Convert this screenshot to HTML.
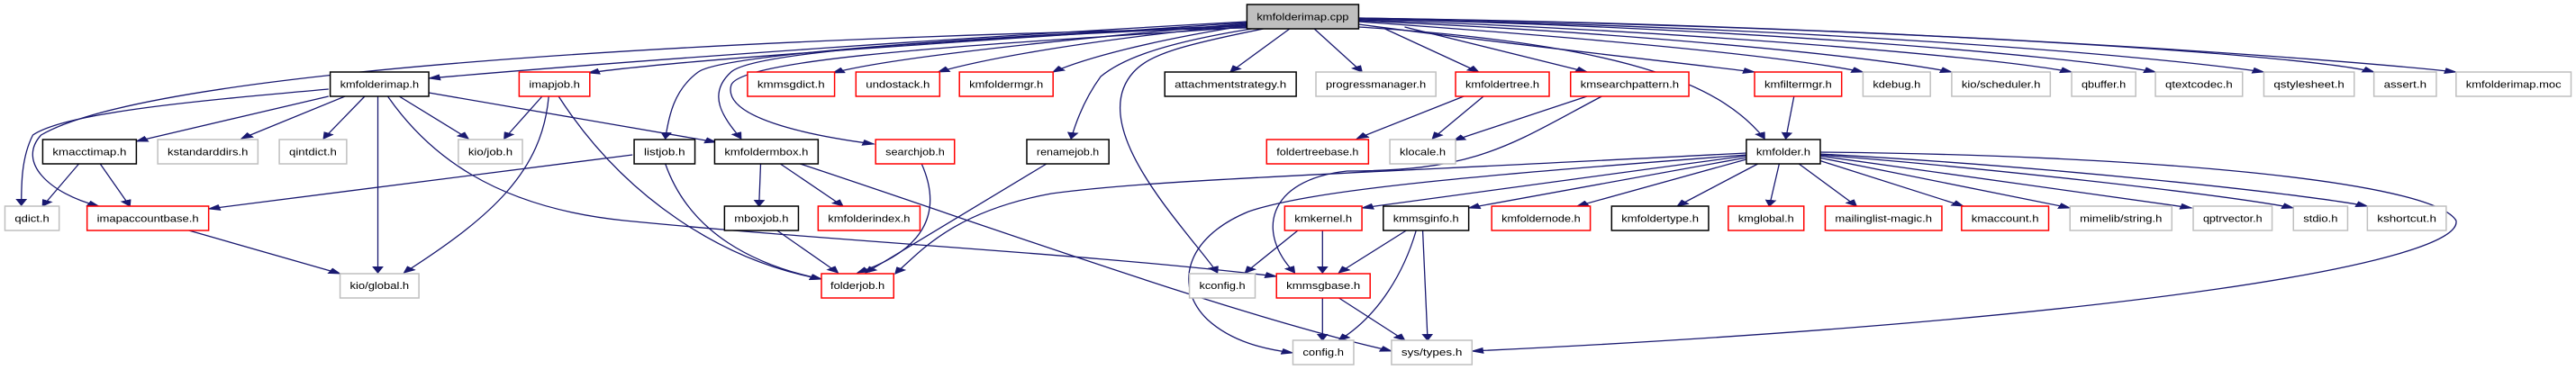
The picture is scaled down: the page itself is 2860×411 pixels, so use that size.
<!DOCTYPE html>
<html><head><meta charset="utf-8"><style>
html,body{margin:0;padding:0;background:#fff;}
svg{display:block;}
text{font-family:"Liberation Sans",sans-serif;font-size:11px;fill:#000;}
path,rect{vector-effect:non-scaling-stroke;}
</style></head><body>
<svg width="2860" height="411" viewBox="0 0 1568 411" preserveAspectRatio="none" xmlns="http://www.w3.org/2000/svg">
<defs>
<marker id="a" markerUnits="userSpaceOnUse" markerWidth="8" markerHeight="7" refX="7" refY="3.5" orient="auto">
<path d="M0,0 L8,3.5 L0,7 z" fill="#191970" stroke="none"/>
</marker>
</defs>
<g fill="none" stroke="#191970" stroke-width="1.3" marker-end="url(#a)">
<path d="M759,24 C600,40 400,65 261,87"/>
<path d="M759,25 C600,45 420,65 358,81"/>
<path d="M759,26 C640,45 540,65 507,81"/>
<path d="M759,27 C660,45 600,65 571,80"/>
<path d="M760,28 C700,45 660,65 641,80"/>
<path d="M785,32 L749,80"/>
<path d="M800,32 L829,80"/>
<path d="M843,32 L900,80"/>
<path d="M855,30 L966,80"/>
<path d="M827,27 C900,45 1000,65 1068,80"/>
<path d="M827,24 C950,40 1080,60 1134,80"/>
<path d="M827,23 C980,35 1130,60 1188,80"/>
<path d="M827,22 C1000,32 1200,60 1261,80"/>
<path d="M827,21 C1050,30 1250,60 1312,80"/>
<path d="M827,21 C1100,30 1300,60 1378,80"/>
<path d="M827,20 C1150,30 1400,60 1445,80"/>
<path d="M827,20 C1150,28 1420,65 1495,80"/>
<path d="M827,30 C1000,50 1050,100 1074,154"/>
<path d="M759,28 C600,40 440,60 425,80 C410,100 407,130 405,154"/>
<path d="M759,29 C600,42 460,55 445,80 C430,105 440,130 451,154"/>
<path d="M759,30 C650,45 450,60 445,95 C440,130 490,150 532,160"/>
<path d="M762,32 C700,50 680,70 670,85 C660,110 655,135 652,154"/>
<path d="M769,32 C720,50 700,60 690,80 C660,140 720,250 741,303"/>
<path d="M759,31 C500,40 100,70 25,150 C10,180 30,215 60,229"/>
<path d="M200,107 L83,157"/>
<path d="M210,107 L147,154"/>
<path d="M222,107 L197,154"/>
<path d="M230,107 L230,303"/>
<path d="M243,107 L285,154"/>
<path d="M261,103 L436,158"/>
<path d="M236,107 C260,170 300,230 380,245 C520,270 650,280 777,307"/>
<path d="M200,99 C120,112 40,125 20,150 C13,175 13,205 13,228"/>
<path d="M330,107 L307,154"/>
<path d="M334,107 C330,190 300,240 246,303"/>
<path d="M340,107 C380,220 440,290 500,310"/>
<path d="M48,182 L26,229"/>
<path d="M61,182 L79,229"/>
<path d="M385,172 L127,232"/>
<path d="M405,182 C420,260 460,295 500,310"/>
<path d="M463,182 L462,229"/>
<path d="M475,182 L513,229"/>
<path d="M487,182 C600,250 750,350 847,390"/>
<path d="M115,256 L207,304"/>
<path d="M473,256 L510,303"/>
<path d="M561,182 C575,240 560,280 522,303"/>
<path d="M637,182 L527,303"/>
<path d="M891,107 L826,154"/>
<path d="M903,107 L872,154"/>
<path d="M966,107 L885,156"/>
<path d="M975,107 C920,160 900,190 820,190 C770,200 765,260 788,303"/>
<path d="M1092,107 L1087,154"/>
<path d="M1063,170 C800,195 700,200 640,215 C580,235 560,280 545,304"/>
<path d="M1063,172 C900,195 800,210 760,235 C720,265 715,320 735,355 C750,380 770,388 787,392"/>
<path d="M1063,173 L829,231"/>
<path d="M1063,175 L894,231"/>
<path d="M1063,177 L960,229"/>
<path d="M1070,182 L1021,229"/>
<path d="M1083,182 L1077,229"/>
<path d="M1095,182 L1130,229"/>
<path d="M1107,178 L1195,229"/>
<path d="M1107,175 L1260,231"/>
<path d="M1107,173 L1334,231"/>
<path d="M1107,172 C1200,185 1350,215 1396,231"/>
<path d="M1107,171 C1250,185 1400,215 1441,229"/>
<path d="M1107,169 C1300,172 1480,200 1495,245 C1500,290 1300,355 896,390"/>
<path d="M790,256 L758,303"/>
<path d="M805,256 L805,303"/>
<path d="M856,256 L815,303"/>
<path d="M862,256 C855,300 840,350 815,378"/>
<path d="M866,256 L869,378"/>
<path d="M805,331 L805,378"/>
<path d="M815,331 L855,378"/>
</g>
<g stroke-width="1.5">
<rect x="759" y="5" width="68" height="27" fill="#bfbfbf" stroke="#000"/>
<rect x="201" y="80" width="60" height="27" fill="#fff" stroke="#000"/>
<rect x="316" y="80" width="43" height="27" fill="#fff" stroke="#f00"/>
<rect x="455" y="80" width="53" height="27" fill="#fff" stroke="#f00"/>
<rect x="521" y="80" width="51" height="27" fill="#fff" stroke="#f00"/>
<rect x="584" y="80" width="57" height="27" fill="#fff" stroke="#f00"/>
<rect x="709" y="80" width="80" height="27" fill="#fff" stroke="#000"/>
<rect x="801" y="80" width="73" height="27" fill="#fff" stroke="#bfbfbf"/>
<rect x="886" y="80" width="57" height="27" fill="#fff" stroke="#f00"/>
<rect x="956" y="80" width="72" height="27" fill="#fff" stroke="#f00"/>
<rect x="1068" y="80" width="53" height="27" fill="#fff" stroke="#f00"/>
<rect x="1134" y="80" width="41" height="27" fill="#fff" stroke="#bfbfbf"/>
<rect x="1188" y="80" width="60" height="27" fill="#fff" stroke="#bfbfbf"/>
<rect x="1261" y="80" width="39" height="27" fill="#fff" stroke="#bfbfbf"/>
<rect x="1312" y="80" width="53" height="27" fill="#fff" stroke="#bfbfbf"/>
<rect x="1378" y="80" width="55" height="27" fill="#fff" stroke="#bfbfbf"/>
<rect x="1445" y="80" width="38" height="27" fill="#fff" stroke="#bfbfbf"/>
<rect x="1495" y="80" width="70" height="27" fill="#fff" stroke="#bfbfbf"/>
<rect x="26" y="155" width="57" height="27" fill="#fff" stroke="#000"/>
<rect x="96" y="155" width="61" height="27" fill="#fff" stroke="#bfbfbf"/>
<rect x="170" y="155" width="41" height="27" fill="#fff" stroke="#bfbfbf"/>
<rect x="279" y="155" width="39" height="27" fill="#fff" stroke="#bfbfbf"/>
<rect x="386" y="155" width="37" height="27" fill="#fff" stroke="#000"/>
<rect x="435" y="155" width="63" height="27" fill="#fff" stroke="#000"/>
<rect x="533" y="155" width="48" height="27" fill="#fff" stroke="#f00"/>
<rect x="625" y="155" width="50" height="27" fill="#fff" stroke="#000"/>
<rect x="771" y="155" width="62" height="27" fill="#fff" stroke="#f00"/>
<rect x="846" y="155" width="40" height="27" fill="#fff" stroke="#bfbfbf"/>
<rect x="1063" y="155" width="45" height="27" fill="#fff" stroke="#000"/>
<rect x="3" y="229" width="33" height="27" fill="#fff" stroke="#bfbfbf"/>
<rect x="53" y="229" width="74" height="27" fill="#fff" stroke="#f00"/>
<rect x="441" y="229" width="45" height="27" fill="#fff" stroke="#000"/>
<rect x="498" y="229" width="62" height="27" fill="#fff" stroke="#f00"/>
<rect x="782" y="229" width="47" height="27" fill="#fff" stroke="#f00"/>
<rect x="842" y="229" width="52" height="27" fill="#fff" stroke="#000"/>
<rect x="908" y="229" width="60" height="27" fill="#fff" stroke="#f00"/>
<rect x="981" y="229" width="59" height="27" fill="#fff" stroke="#000"/>
<rect x="1052" y="229" width="46" height="27" fill="#fff" stroke="#f00"/>
<rect x="1111" y="229" width="71" height="27" fill="#fff" stroke="#f00"/>
<rect x="1194" y="229" width="53" height="27" fill="#fff" stroke="#f00"/>
<rect x="1260" y="229" width="62" height="27" fill="#fff" stroke="#bfbfbf"/>
<rect x="1335" y="229" width="48" height="27" fill="#fff" stroke="#bfbfbf"/>
<rect x="1396" y="229" width="33" height="27" fill="#fff" stroke="#bfbfbf"/>
<rect x="1441" y="229" width="48" height="27" fill="#fff" stroke="#bfbfbf"/>
<rect x="207" y="304" width="48" height="27" fill="#fff" stroke="#bfbfbf"/>
<rect x="500" y="304" width="44" height="27" fill="#fff" stroke="#f00"/>
<rect x="724" y="304" width="40" height="27" fill="#fff" stroke="#bfbfbf"/>
<rect x="777" y="304" width="57" height="27" fill="#fff" stroke="#f00"/>
<rect x="787" y="378" width="37" height="27" fill="#fff" stroke="#bfbfbf"/>
<rect x="847" y="378" width="49" height="27" fill="#fff" stroke="#bfbfbf"/>
</g>
<g text-anchor="middle">
<text x="793" y="22.5" textLength="56" lengthAdjust="spacingAndGlyphs">kmfolderimap.cpp</text>
<text x="231" y="97.5" textLength="48" lengthAdjust="spacingAndGlyphs">kmfolderimap.h</text>
<text x="337.5" y="97.5" textLength="31" lengthAdjust="spacingAndGlyphs">imapjob.h</text>
<text x="481.5" y="97.5" textLength="41" lengthAdjust="spacingAndGlyphs">kmmsgdict.h</text>
<text x="546.5" y="97.5" textLength="39" lengthAdjust="spacingAndGlyphs">undostack.h</text>
<text x="612.5" y="97.5" textLength="45" lengthAdjust="spacingAndGlyphs">kmfoldermgr.h</text>
<text x="749" y="97.5" textLength="68" lengthAdjust="spacingAndGlyphs">attachmentstrategy.h</text>
<text x="837.5" y="97.5" textLength="61" lengthAdjust="spacingAndGlyphs">progressmanager.h</text>
<text x="914.5" y="97.5" textLength="45" lengthAdjust="spacingAndGlyphs">kmfoldertree.h</text>
<text x="992" y="97.5" textLength="60" lengthAdjust="spacingAndGlyphs">kmsearchpattern.h</text>
<text x="1094.5" y="97.5" textLength="41" lengthAdjust="spacingAndGlyphs">kmfiltermgr.h</text>
<text x="1154.5" y="97.5" textLength="29" lengthAdjust="spacingAndGlyphs">kdebug.h</text>
<text x="1218" y="97.5" textLength="48" lengthAdjust="spacingAndGlyphs">kio/scheduler.h</text>
<text x="1280.5" y="97.5" textLength="27" lengthAdjust="spacingAndGlyphs">qbuffer.h</text>
<text x="1338.5" y="97.5" textLength="41" lengthAdjust="spacingAndGlyphs">qtextcodec.h</text>
<text x="1405.5" y="97.5" textLength="43" lengthAdjust="spacingAndGlyphs">qstylesheet.h</text>
<text x="1464" y="97.5" textLength="26" lengthAdjust="spacingAndGlyphs">assert.h</text>
<text x="1530" y="97.5" textLength="58" lengthAdjust="spacingAndGlyphs">kmfolderimap.moc</text>
<text x="54.5" y="172.5" textLength="45" lengthAdjust="spacingAndGlyphs">kmacctimap.h</text>
<text x="126.5" y="172.5" textLength="49" lengthAdjust="spacingAndGlyphs">kstandarddirs.h</text>
<text x="190.5" y="172.5" textLength="29" lengthAdjust="spacingAndGlyphs">qintdict.h</text>
<text x="298.5" y="172.5" textLength="27" lengthAdjust="spacingAndGlyphs">kio/job.h</text>
<text x="404.5" y="172.5" textLength="25" lengthAdjust="spacingAndGlyphs">listjob.h</text>
<text x="466.5" y="172.5" textLength="51" lengthAdjust="spacingAndGlyphs">kmfoldermbox.h</text>
<text x="557" y="172.5" textLength="36" lengthAdjust="spacingAndGlyphs">searchjob.h</text>
<text x="650" y="172.5" textLength="38" lengthAdjust="spacingAndGlyphs">renamejob.h</text>
<text x="802" y="172.5" textLength="50" lengthAdjust="spacingAndGlyphs">foldertreebase.h</text>
<text x="866" y="172.5" textLength="28" lengthAdjust="spacingAndGlyphs">klocale.h</text>
<text x="1085.5" y="172.5" textLength="33" lengthAdjust="spacingAndGlyphs">kmfolder.h</text>
<text x="19.5" y="246.5" textLength="21" lengthAdjust="spacingAndGlyphs">qdict.h</text>
<text x="90" y="246.5" textLength="62" lengthAdjust="spacingAndGlyphs">imapaccountbase.h</text>
<text x="463.5" y="246.5" textLength="33" lengthAdjust="spacingAndGlyphs">mboxjob.h</text>
<text x="529" y="246.5" textLength="50" lengthAdjust="spacingAndGlyphs">kmfolderindex.h</text>
<text x="805.5" y="246.5" textLength="35" lengthAdjust="spacingAndGlyphs">kmkernel.h</text>
<text x="868" y="246.5" textLength="40" lengthAdjust="spacingAndGlyphs">kmmsginfo.h</text>
<text x="938" y="246.5" textLength="48" lengthAdjust="spacingAndGlyphs">kmfoldernode.h</text>
<text x="1010.5" y="246.5" textLength="47" lengthAdjust="spacingAndGlyphs">kmfoldertype.h</text>
<text x="1075" y="246.5" textLength="34" lengthAdjust="spacingAndGlyphs">kmglobal.h</text>
<text x="1146.5" y="246.5" textLength="59" lengthAdjust="spacingAndGlyphs">mailinglist-magic.h</text>
<text x="1220.5" y="246.5" textLength="41" lengthAdjust="spacingAndGlyphs">kmaccount.h</text>
<text x="1291" y="246.5" textLength="50" lengthAdjust="spacingAndGlyphs">mimelib/string.h</text>
<text x="1359" y="246.5" textLength="36" lengthAdjust="spacingAndGlyphs">qptrvector.h</text>
<text x="1412.5" y="246.5" textLength="21" lengthAdjust="spacingAndGlyphs">stdio.h</text>
<text x="1465" y="246.5" textLength="36" lengthAdjust="spacingAndGlyphs">kshortcut.h</text>
<text x="231" y="321" textLength="36" lengthAdjust="spacingAndGlyphs">kio/global.h</text>
<text x="522" y="321" textLength="33" lengthAdjust="spacingAndGlyphs">folderjob.h</text>
<text x="744" y="321" textLength="28" lengthAdjust="spacingAndGlyphs">kconfig.h</text>
<text x="805.5" y="321" textLength="45" lengthAdjust="spacingAndGlyphs">kmmsgbase.h</text>
<text x="805.5" y="395" textLength="25" lengthAdjust="spacingAndGlyphs">config.h</text>
<text x="871.5" y="395" textLength="37" lengthAdjust="spacingAndGlyphs">sys/types.h</text>
</g>
</svg>
</body></html>
